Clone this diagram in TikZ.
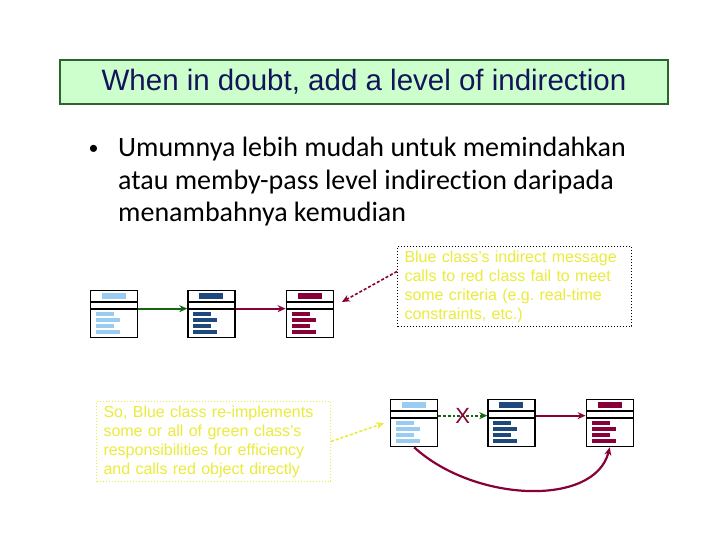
\documentclass[tikz,border=0pt]{standalone}
\usepackage{fontspec}
\setmainfont{Liberation Sans}
\newfontfamily\bodyfont[Ligatures=NoCommon]{Carlito}
\usetikzlibrary{arrows.meta, positioning, calc}
\definecolor{cTitleFill}{RGB}{204,255,204}
\definecolor{cTitleLine}{RGB}{45,100,45}
\definecolor{cNavy}{RGB}{20,20,90}
\definecolor{cNote}{RGB}{235,235,60}
\definecolor{cLight}{RGB}{153,204,240}
\definecolor{cDark}{RGB}{31,73,125}
\definecolor{cWine}{RGB}{135,0,55}
\definecolor{cGreen}{RGB}{20,100,20}
\tikzset{
	titlebox/.style ={rectangle, draw=cTitleLine, line width=2pt, fill=cTitleFill, minimum width=608pt, minimum height=44pt, text=cNavy, font=\fontsize{29.5}{32}\selectfont},
	bullettext/.style={align=left, inner sep=0pt, font=\bodyfont\fontsize{28}{32.5}\selectfont},
	cls/.style      ={rectangle, draw=black, line width=1.3pt, minimum width=47pt, minimum height=47pt, inner sep=0pt, fill=white},
	note/.style     ={rectangle, dotted, line width=1pt, text=cNote, align=left, text width=220pt, inner xsep=7pt, inner ysep=4pt, anchor=north west, font=\fontsize{16}{19}\selectfont},
	msg/.style      ={-{Stealth[length=8pt, width=7pt]}, line width=2.2pt},
	hint/.style     ={msg, line width=1.6pt, dash pattern=on 3pt off 2pt},
}
\newcommand{\clsbody}[2]{%
	\draw[line width=1.3pt] ($(#1.north west)+(0,12)$) -- ($(#1.north east)+(0,12)$);
	\draw[line width=1.3pt] ($(#1.north west)+(0,19)$) -- ($(#1.north east)+(0,19)$);
	\fill[#2] ($(#1.north west)+(12,3)$) rectangle ++(24,6);
	\foreach \yy/\ww in {22/18,28/24,34/18,40/24}
		\fill[#2] ($(#1.north west)+(6,\yy)$) rectangle ++(\ww,3.5);
}

\begin{document}
\begin{tikzpicture}[x=1pt, y=-1pt]
	\fill[white] (0,0) rectangle (720,540);
	\useasboundingbox (0,0) rectangle (720,540);
	\node[titlebox] (title) at (364,82) {When in doubt, add a level of indirection};
	\node[bullettext, anchor=base west] (pt) at (118,222) {Umumnya lebih mudah untuk memindahkan\\atau memby-pass level indirection daripada\\menambahnya kemudian};
	\node[bullettext, anchor=base, font=\bodyfont\fontsize{20}{20}\selectfont] (dot) at (93.5,155) {\textbullet};
	% class row before
	\node[cls, anchor=north west] (c1) at (90,290) {};
	\node[cls, right=49pt of c1] (c2) {};
	\node[cls, right=50pt of c2] (c3) {};
	\clsbody{c1}{cLight}
	\clsbody{c2}{cDark}
	\clsbody{c3}{cWine}
	\draw[msg, cGreen] ([yshift=5.5pt]c1.east) -- ([yshift=5.5pt]c2.west);
	\draw[msg, cWine] ([yshift=5.5pt]c2.east) -- ([yshift=5.5pt]c3.west);
	\node[note, draw=black] (n1) at (397,246) {Blue class’s indirect message\\calls to red class fail to meet\\some criteria (e.g.\ real-time\\constraints, etc.)};
	\coordinate (tip1) at ($(c3.north east)+(8,12)$);
	\draw[hint, cWine] ([yshift=15pt]n1.west) -- (tip1);
	% class row after
	\node[cls, anchor=north west] (d1) at (390,399) {};
	\node[cls, right=49pt of d1] (d2) {};
	\node[cls, right=50pt of d2] (d3) {};
	\clsbody{d1}{cLight}
	\clsbody{d2}{cDark}
	\clsbody{d3}{cWine}
	\draw[msg, cGreen, dash dot] ([yshift=7.5pt]d1.east) -- node[text=cWine, font=\fontsize{22}{22}\selectfont] (xmark) {X} ([yshift=7.5pt]d2.west);
	\draw[msg, cWine] ([yshift=7.5pt]d2.east) -- ([yshift=7.5pt]d3.west);
	\draw[msg, cWine] (d1.south) .. controls +(60,55) and +(-15,60) .. (d3.south);
	\node[note, draw=cNote] (n2) at (96,401) {So, Blue class re-implements\\some or all of green class’s\\responsibilities for efficiency\\and calls red object directly};
	\coordinate (tip2) at ([xshift=-6pt]d1.west);
	\draw[hint, cNote] (n2.east) -- (tip2);
\end{tikzpicture}
\end{document}
